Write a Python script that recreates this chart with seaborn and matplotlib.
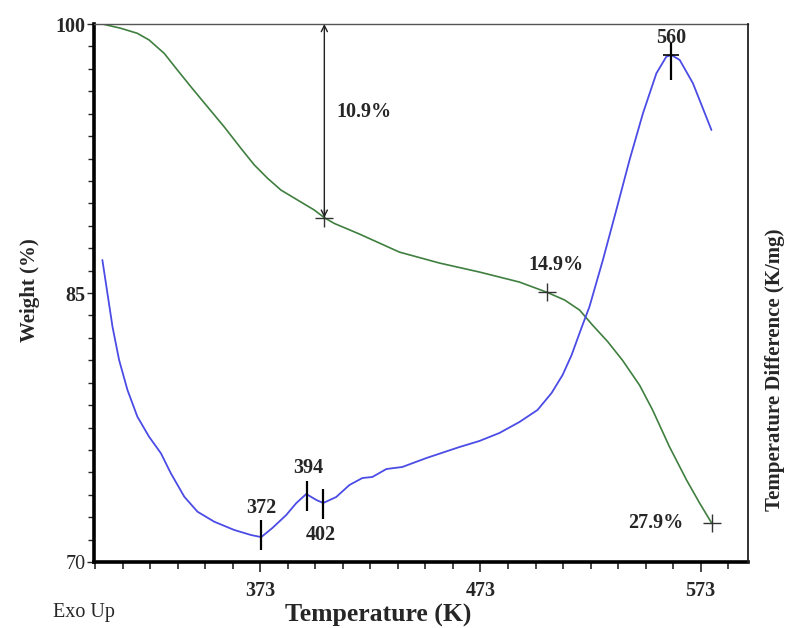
import numpy as np
import matplotlib
matplotlib.use("Agg")
import matplotlib.pyplot as plt
from matplotlib.ticker import FixedLocator
import seaborn as sns

# ---- data ----
temp_tg = [298.5, 301.3, 309.7, 317.2, 322.5, 329.4, 335.4, 341.5, 349.0, 356.6,
           364.2, 370.3, 376.3, 382.4, 390.0, 397.5, 402.1, 406.6, 418.0, 436.2,
           454.4, 472.5, 490.7, 503.0, 511.2, 518.0, 523.9, 530.7, 537.5, 545.3,
           551.2, 558.9, 566.6, 572.5, 578.0]
weight = [100.0, 100.0, 99.76, 99.48, 99.11, 98.36, 97.43, 96.50, 95.39, 94.27,
          93.07, 92.14, 91.40, 90.74, 90.18, 89.63, 89.20, 88.88, 88.29, 87.28,
          86.67, 86.17, 85.61, 85.05, 84.61, 84.05, 83.21, 82.30, 81.25, 79.85,
          78.47, 76.41, 74.57, 73.29, 72.17]

temp_dta = [301.3, 303.6, 305.9, 308.9, 312.7, 317.2, 322.5, 327.9, 332.4, 338.5,
            344.5, 352.1, 361.2, 368.8, 372.5, 373.5, 378.5, 384.8, 389.4, 393.9,
            398.5, 401.6, 407.5, 413.5, 419.4, 423.9, 427.1, 430.3, 437.5, 448.5,
            463.5, 472.5, 481.6, 490.7, 498.9, 505.3, 510.3, 514.4, 518.8, 522.5,
            528.6, 534.7, 540.7, 546.8, 552.9, 557.4, 559.7, 563.5, 569.5, 577.9]
dta = [30.2, 26.87, 23.53, 20.2, 17.2, 14.53, 12.53, 10.87, 8.87, 6.53,
       5.03, 4.03, 3.2, 2.7, 2.53, 2.5, 3.4, 4.7, 5.9, 6.8,
       6.2, 5.9, 6.5, 7.7, 8.4, 8.5, 8.9, 9.3, 9.5, 10.4,
       11.5, 12.1, 12.9, 14.0, 15.2, 16.9, 18.7, 20.7, 23.37, 25.53,
       30.2, 35.2, 40.2, 44.87, 48.87, 50.53, 50.7, 50.2, 47.87, 43.2]

# weight-loss marks
loss_temps = [402.1, 503.0, 578.0]
loss_weights = [89.20, 85.05, 72.17]
loss_labels = ["10.9%", "14.9%", "27.9%"]

# DTA peak marks
peak_temps = [373.5, 394.4, 401.6, 559.7]
peak_dta = [2.75, 6.6, 5.8, 50.1]
peak_labels = ["372", "394", "402", "560"]

x_ticks = [373, 473, 573]
y_ticks = [70, 85, 100]

# ---- style ----
sns.set_style("ticks")
plt.rcParams["font.family"] = ["Liberation Serif", "DejaVu Serif"]

green = "#3f7f3f"
blue = "#4b4be6"

fig = plt.figure(figsize=(7.9, 6.28), dpi=100)
ax = fig.add_axes([94 / 790, 1 - 562 / 628, (748 - 94) / 790, (562 - 24) / 628])
ax2 = ax.twinx()

sns.lineplot(x=temp_tg, y=weight, ax=ax, color=green, lw=1.2)
sns.lineplot(x=temp_dta, y=dta, ax=ax2, color=blue, lw=1.3)

ax.set_xlim(297.5, 594.5)
ax.set_ylim(70, 100)
ax2.set_ylim(0, 53.8)

# spines
for s in ["left", "bottom"]:
    ax.spines[s].set_linewidth(2.6)
    ax.spines[s].set_color("black")
ax.spines["top"].set_linewidth(1.0)
ax.spines["top"].set_color("#555555")
ax.spines["right"].set_visible(False)
for s in ["left", "bottom", "top"]:
    ax2.spines[s].set_visible(False)
ax2.spines["right"].set_linewidth(1.3)
ax2.spines["right"].set_color("#222222")
ax2.set_yticks([])
ax2.set_ylabel("")

# ticks
ax.xaxis.set_major_locator(FixedLocator(x_ticks))
ax.xaxis.set_minor_locator(FixedLocator(list(np.arange(298, 594, 12.5))))
ax.yaxis.set_major_locator(FixedLocator(y_ticks))
ax.yaxis.set_minor_locator(FixedLocator(list(np.arange(70, 100.1, 1.25))))
ax.tick_params(axis="x", which="major", direction="out", length=7, width=1.2,
               pad=6.5, labelsize=14.5)
ax.tick_params(axis="x", which="minor", direction="out", length=5, width=1.2)
ax.tick_params(axis="y", which="major", direction="out", length=5, width=1.0,
               pad=1, labelsize=14.5)
ax.tick_params(axis="y", which="minor", direction="out", length=4, width=1.0)
for lab in ax.get_xticklabels():
    lab.set_fontweight("bold")
for lab in ax.get_yticklabels():
    if lab.get_text() != "70":
        lab.set_fontweight("bold")

# axis labels
ax.set_xlabel("Temperature (K)", fontsize=18.5, fontweight="bold")
ax.xaxis.label.set_va("center")
ax.xaxis.set_label_coords(0.434, -0.100)
ax.set_ylabel("Weight (%)", fontsize=15, fontweight="bold")
ax.yaxis.label.set_va("center")
ax.yaxis.set_label_coords(-0.098, 0.506)
ax.text(1.041, 0.357, "Temperature Difference (K/mg)", transform=ax.transAxes,
        rotation=90, ha="center", va="center", fontsize=15, fontweight="bold")
fig.text(53 / 790, 1 - 613 / 628, "Exo Up", ha="left", va="center",
         fontsize=14.5, family=["Liberation Serif"])

# weight-loss arrow and marks
ax.annotate("", xy=(loss_temps[0], 100), xytext=(loss_temps[0], loss_weights[0]),
            arrowprops=dict(arrowstyle="<->", lw=1.0, color="#222222",
                            shrinkA=0, shrinkB=0, mutation_scale=11))
ax.plot(loss_temps, loss_weights, ls="none", marker="+", ms=13, mew=1.0,
        color="#333333")
ax.text(420.3, 95.1, loss_labels[0], ha="center", va="center", fontsize=14.5,
        fontweight="bold")
ax.text(507.5, 86.56, loss_labels[1], ha="center", va="center", fontsize=14.5,
        fontweight="bold")
ax.text(552.5, 72.17, loss_labels[2], ha="center", va="center", fontsize=14.5,
        fontweight="bold")

# DTA peak marks
ax2.plot(peak_temps[:3], peak_dta[:3], ls="none", marker="|", ms=22, mew=1.6,
         color="black")
ax2.plot([peak_temps[3]], [peak_dta[3]], ls="none", marker="|", ms=28, mew=1.6,
         color="black")
ax2.plot([peak_temps[3]], [peak_dta[3] + 0.6], ls="none", marker="_", ms=11,
         mew=1.2, color="black")
label_pos = [(373.5, 5.4), (394.8, 9.4), (400.7, 2.7), (559.8, 52.4)]
for (tx, ty), lab in zip(label_pos, peak_labels):
    ax2.text(tx, ty, lab, ha="center", va="center", fontsize=14.5,
             fontweight="bold")

fig.savefig("out.png", dpi=100)
